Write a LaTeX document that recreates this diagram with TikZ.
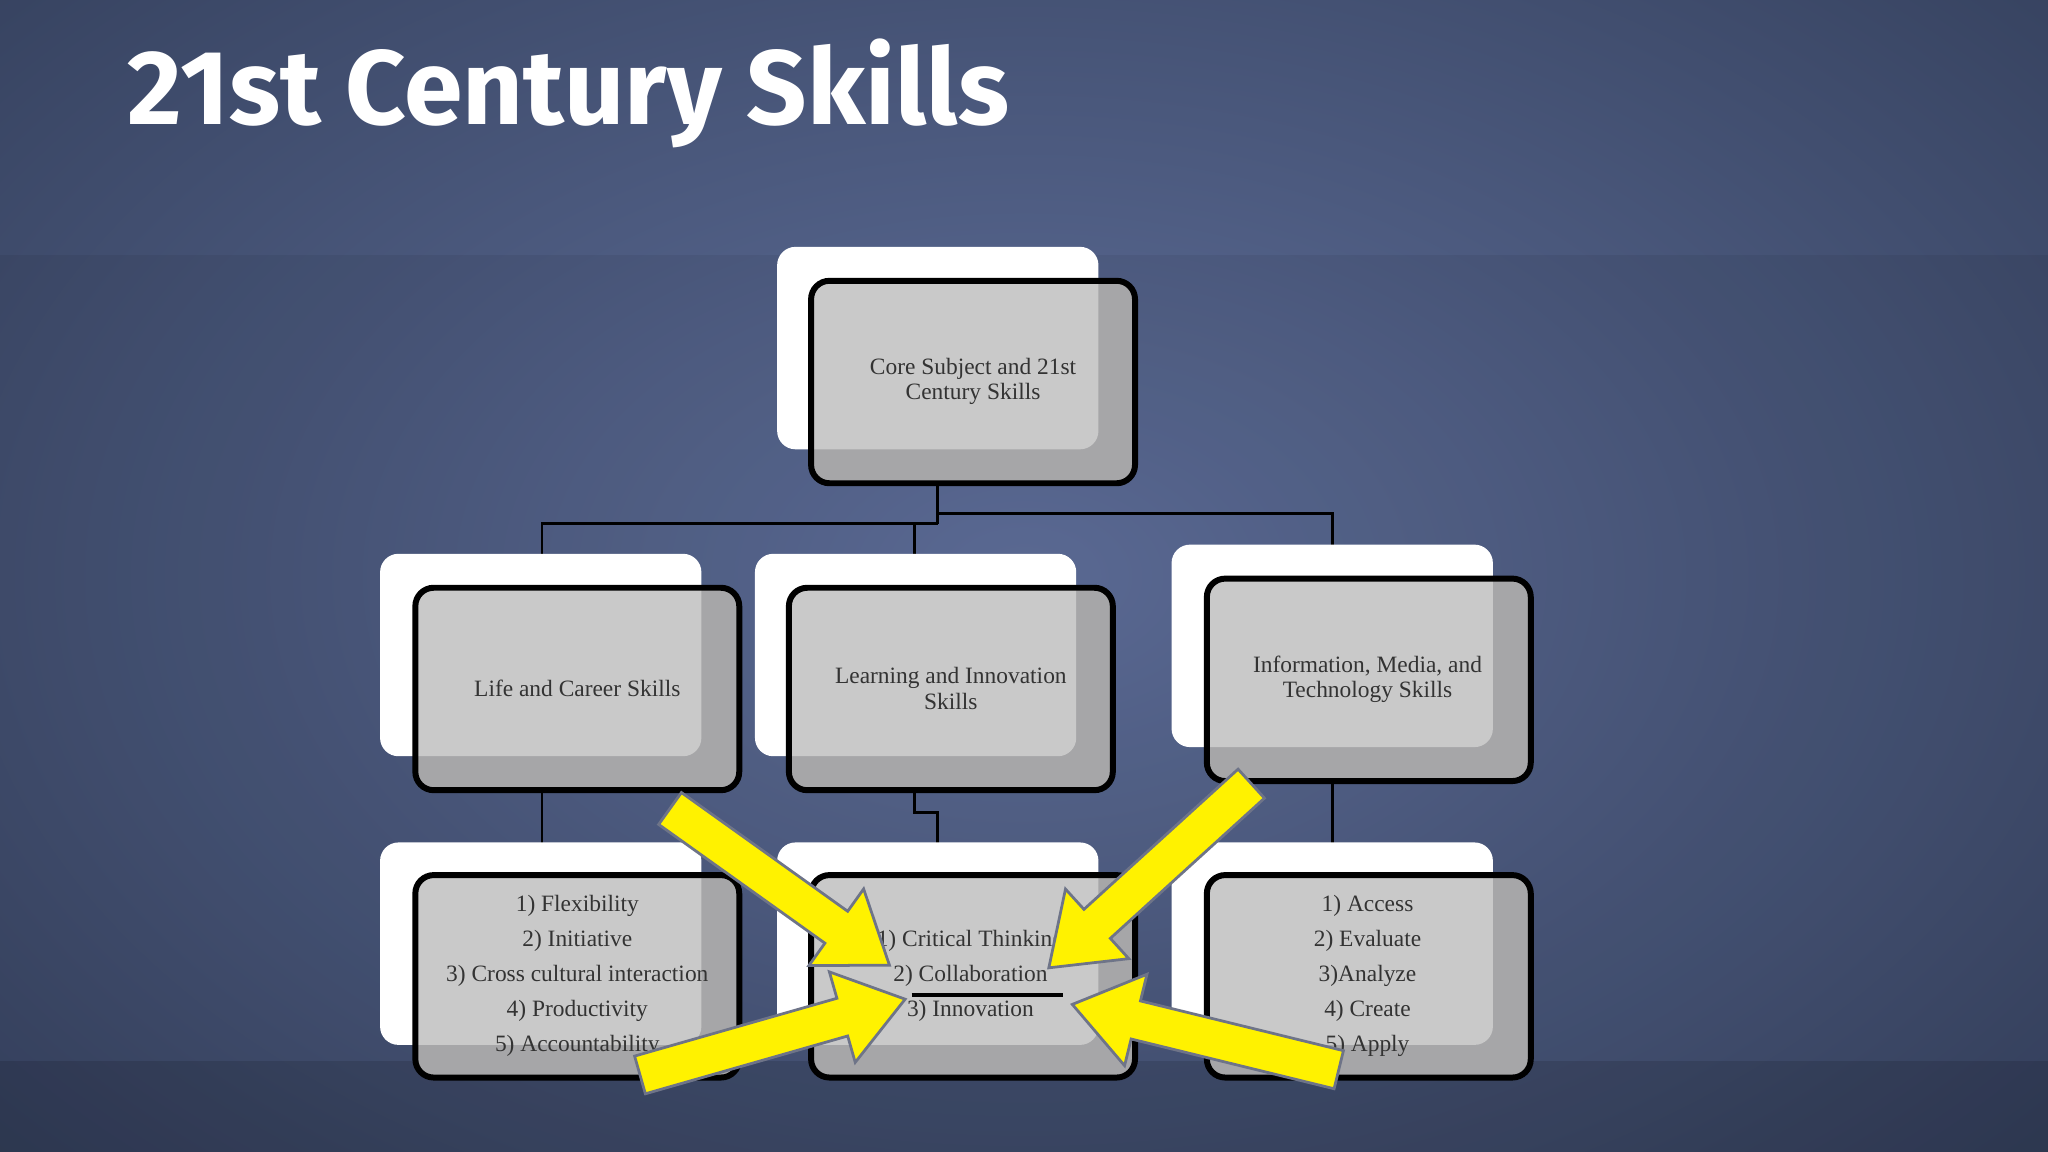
\documentclass[tikz,border=0pt]{standalone}
\usepackage{fontspec}
\setmainfont{Liberation Serif}
\newfontfamily\titlefont{Fira Sans}
\usetikzlibrary{calc}
\definecolor{bgin}{HTML}{60709C}
\definecolor{bgout}{HTML}{36425F}
\definecolor{boxout}{HTML}{A6A6A8}
\definecolor{boxin}{HTML}{C9C9C9}
\definecolor{txt}{HTML}{333333}
\definecolor{arrline}{HTML}{6E7488}
\tikzset{
  x=0.01cm,y=-0.01cm,
  conn/.style={line width=0.6pt,black},
  lbl/.style={text=txt,align=center,font=\fontsize{5.1}{7.6}\selectfont},
  arrst/.style={fill=yellow,draw=arrline,line width=0.6pt,line join=miter},
}
\newcommand\skillbox[5]{% name, white x1,y1, gray x1,y1
  \fill[white,rounded corners=4pt] (#2,#3) rectangle ++(246,155);
  \fill[boxout,rounded corners=4pt] (#4,#5) rectangle ++(248,155);
  \begin{scope}
    \clip[rounded corners=4pt] (#4,#5) rectangle ++(248,155);
    \fill[boxin,rounded corners=4pt] (#2,#3) rectangle ++(246,155);
  \end{scope}
  \draw[black,line width=1.3pt,rounded corners=4pt] (#4,#5) rectangle ++(248,155);
  \coordinate (#1) at ($(#4,#5)+(124,77.5)$);
}
\newcommand\yarr[2]{%
  \coordinate (h) at ($(#2)!0.5cm!(#1)$);
  \draw[arrst] ($(#1)!0.15cm!90:(#2)$) -- ($(h)!0.15cm!90:(#2)$) -- ($(h)!0.36cm!90:(#2)$) -- (#2)
    -- ($(h)!0.36cm!-90:(#2)$) -- ($(h)!0.15cm!-90:(#2)$) -- ($(#1)!0.15cm!-90:(#2)$) -- cycle;
}
\begin{document}
\begin{tikzpicture}
\useasboundingbox (0,0) rectangle (1568,882);
\shade[inner color=bgin,outer color=bgout] (-300,-250) rectangle (1868,1132);
\fill[black,opacity=0.06] (0,195) rectangle (1568,882);
\fill[black,opacity=0.12] (0,812) rectangle (1568,882);
\node[anchor=base west,text=white,inner sep=0,font=\titlefont\bfseries\fontsize{23}{28}\selectfont] (title) at (97,95) {21st Century Skills};
% connectors
\coordinate (j0) at (718,393);
\coordinate (j1) at (718,401);
\coordinate (jl) at (415,401);
\coordinate (jm) at (700,401);
\coordinate (jr) at (1020,393);
\coordinate (k1) at (700,622);
\coordinate (k2) at (718,622);
\draw[conn] (718,371) -- (j1);
\draw[conn] (j0) -- (jr) -- (1020,443);
\draw[conn] (j1) -- (jl) -- (415,450);
\draw[conn] (jm) -- (700,450);
\draw[conn] (415,605) -- (415,670);
\draw[conn] (700,605) -- (k1) -- (k2) -- (718,670);
\draw[conn] (1020,598) -- (1020,670);
% boxes
\skillbox{core}{595}{189}{621}{215}
\skillbox{life}{291}{424}{318}{450}
\skillbox{learn}{578}{424}{604}{450}
\skillbox{info}{897}{417}{924}{443}
\skillbox{lifeL}{291}{645}{318}{670}
\skillbox{learnL}{595}{645}{621}{670}
\skillbox{infoL}{897}{645}{924}{670}
\node[lbl,font=\fontsize{5.1}{5.6}\selectfont] (coreT) at (745,292) {Core Subject and 21st\\Century Skills};
\node[lbl] (lifeT) at (442,527) {Life and Career Skills};
\node[lbl,font=\fontsize{5.1}{5.6}\selectfont] (learnT) at (728,527) {Learning and Innovation\\Skills};
\node[lbl,font=\fontsize{5.1}{5.6}\selectfont] (infoT) at (1047,520) {Information, Media, and\\Technology Skills};
\node[lbl] (lifeLT) at (442,747) {1) Flexibility\\2) Initiative\\3) Cross cultural interaction\\4) Productivity\\5) Accountability};
\node[lbl] (learnLT) at (743,747) {1) Critical Thinking\\2) Collaboration\\3) Innovation};
\draw[black,line width=0.8pt] (698,762) -- (814,762);
\node[lbl] (infoLT) at (1047,747) {1) Access\\2) Evaluate\\3)Analyze\\4) Create\\5) Apply};
% arrows
\coordinate (a1s) at (513,619); \coordinate (a1t) at (681,739);
\coordinate (a2s) at (958,600); \coordinate (a2t) at (803,741);
\coordinate (a3s) at (490,823); \coordinate (a3t) at (693,765);
\coordinate (a4s) at (1025,819); \coordinate (a4t) at (821,769);
\yarr{a1s}{a1t}
\yarr{a2s}{a2t}
\yarr{a3s}{a3t}
\yarr{a4s}{a4t}
\end{tikzpicture}
\end{document}
